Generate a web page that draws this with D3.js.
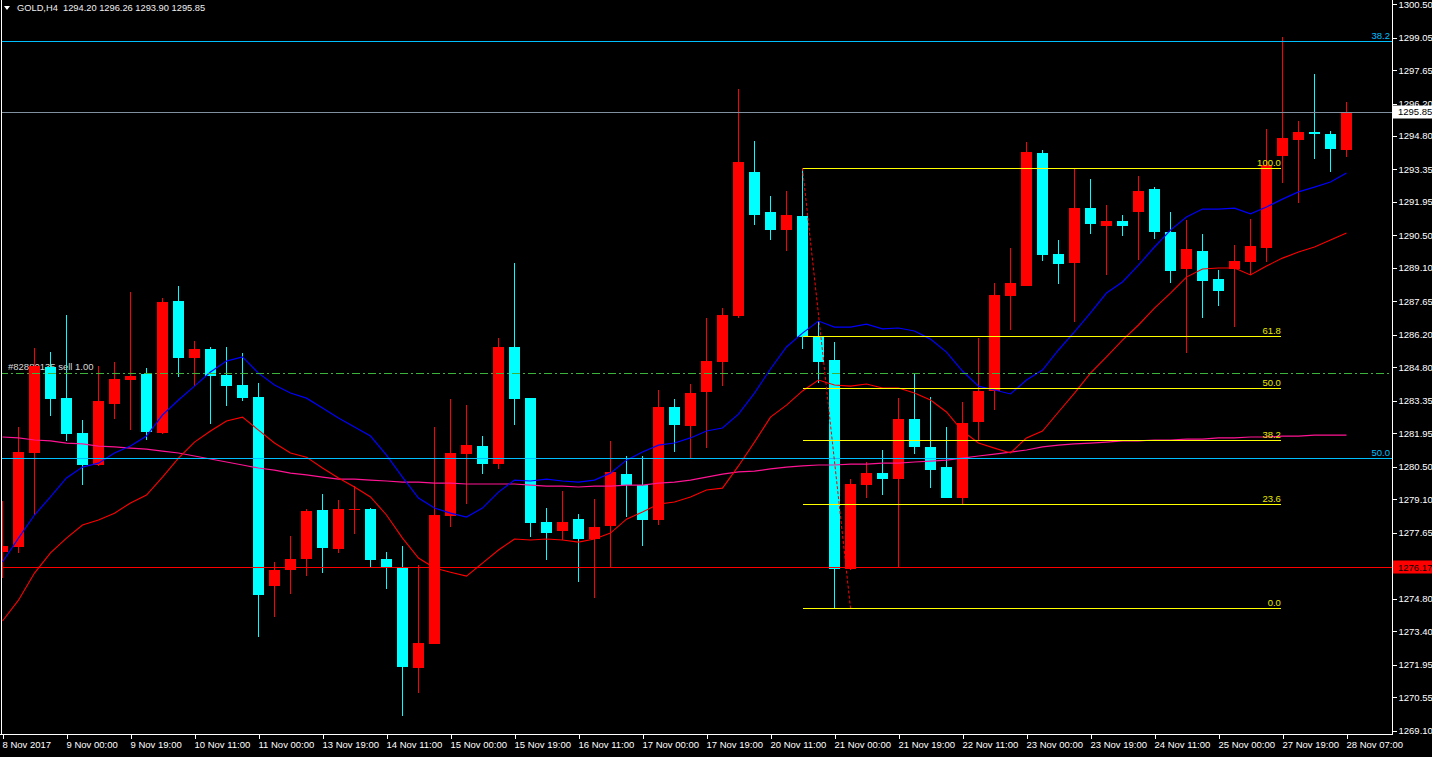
<!DOCTYPE html>
<html><head><meta charset="utf-8">
<script src="https://cdn.jsdelivr.net/npm/d3@7"></script>
<style>
html,body{margin:0;padding:0;background:#000;overflow:hidden}
svg{display:block}
text{font-family:"Liberation Sans",Arial,sans-serif;}
</style></head><body><svg id="c" width="1432" height="757"></svg>
<script>
// ---------- DATA ----------
const symbolTitle = "GOLD,H4";
const lastOHLC = ["1294.20", "1296.26", "1293.90", "1295.85"];

const timeLabels = ["8 Nov 2017","9 Nov 00:00","9 Nov 19:00","10 Nov 11:00","11 Nov 00:00","13 Nov 19:00",
  "14 Nov 11:00","15 Nov 00:00","15 Nov 19:00","16 Nov 11:00","17 Nov 00:00","17 Nov 19:00","20 Nov 11:00",
  "21 Nov 00:00","21 Nov 19:00","22 Nov 11:00","23 Nov 00:00","23 Nov 19:00","24 Nov 11:00","25 Nov 00:00",
  "27 Nov 19:00","28 Nov 07:00"];
const timeLabelBars = [0,4,8,12,16,20,24,28,32,36,40,44,48,52,56,60,64,68,72,76,80,84];

const priceTicks = [1300.50,1299.05,1297.65,1296.20,1294.80,1293.35,1291.95,1290.50,1289.10,1287.65,1286.20,
  1284.80,1283.35,1281.95,1280.50,1279.10,1277.65,1274.80,1273.40,1271.95,1270.55,1269.10];

const opens = [
1276.82,1277.03,1281.10,1284.81,1283.47,1281.96,1280.58,1283.21,1284.25,1284.51,
1281.96,1287.67,1285.20,1285.59,1284.47,1284.04,1283.52,1275.35,1276.04,1276.52,
1278.63,1276.95,1278.64,1278.68,1276.52,1276.13,1271.81,1272.84,1278.37,1281.05,
1281.40,1280.62,1285.68,1283.47,1278.11,1277.73,1278.24,1277.38,1277.94,1280.19,
1279.71,1278.20,1283.08,1282.26,1283.73,1285.03,1287.02,1293.24,1291.51,1290.73,
1291.34,1286.11,1285.12,1276.08,1279.71,1280.23,1279.97,1282.57,1281.36,1280.49,
1279.15,1282.44,1283.78,1287.88,1288.31,1294.06,1289.70,1289.31,1291.68,1290.91,
1291.12,1291.51,1292.51,1290.65,1289.05,1289.83,1288.62,1289.05,1289.35,1289.96,
1293.93,1294.62,1294.97,1294.88,1294.20];
const highs = [
1279.02,1282.22,1285.63,1285.46,1287.06,1282.52,1284.86,1285.03,1288.05,1284.77,
1287.79,1288.31,1285.94,1285.68,1285.68,1285.42,1284.12,1276.39,1277.51,1278.68,
1279.32,1279.07,1279.67,1278.72,1276.82,1277.08,1276.26,1282.22,1283.43,1283.17,
1281.83,1286.07,1289.31,1283.47,1278.72,1279.45,1278.46,1279.11,1281.62,1280.97,
1280.97,1283.82,1283.43,1284.08,1286.93,1287.36,1296.83,1294.58,1292.20,1292.42,
1293.41,1286.80,1285.89,1279.97,1280.71,1281.23,1283.47,1284.55,1283.52,1282.22,
1283.30,1286.07,1288.44,1289.96,1294.54,1294.19,1290.30,1293.41,1292.94,1291.81,
1291.38,1293.07,1292.59,1291.51,1291.17,1290.56,1289.00,1290.09,1291.21,1295.10,
1299.07,1295.44,1297.47,1295.01,1296.26];
const lows = [
1275.69,1276.78,1278.42,1282.70,1281.62,1279.71,1280.53,1282.57,1282.09,1281.66,
1281.92,1284.38,1283.99,1282.35,1283.13,1283.34,1273.15,1274.01,1275.00,1275.78,
1275.91,1276.78,1277.60,1276.17,1275.22,1269.73,1270.73,1272.84,1277.90,1278.89,
1280.19,1280.41,1282.31,1277.47,1276.47,1277.34,1275.52,1274.83,1276.17,1278.33,
1277.08,1277.99,1281.14,1280.88,1281.31,1283.99,1286.93,1290.95,1290.30,1289.83,
1285.59,1284.12,1274.40,1276.04,1279.15,1279.28,1276.17,1281.05,1279.58,1279.15,
1278.89,1281.66,1282.95,1286.41,1288.31,1289.39,1288.40,1286.76,1290.56,1288.79,
1290.47,1289.44,1290.34,1288.44,1285.42,1286.93,1287.45,1286.54,1288.79,1289.35,
1292.76,1291.90,1293.80,1293.24,1293.90];
const closes = [
1277.08,1281.14,1284.86,1283.43,1281.92,1280.58,1283.34,1284.29,1284.42,1282.00,
1287.62,1285.20,1285.59,1284.42,1283.99,1283.47,1274.96,1276.04,1276.52,1278.59,
1276.99,1278.68,1278.68,1276.47,1276.17,1271.85,1272.89,1278.42,1281.10,1281.44,
1280.62,1285.68,1283.43,1278.07,1277.64,1278.11,1277.38,1277.90,1280.28,1279.71,
1278.20,1283.08,1282.31,1283.69,1285.07,1287.06,1293.67,1291.38,1290.73,1291.38,
1286.11,1285.03,1276.08,1279.76,1280.23,1279.97,1282.57,1281.36,1280.36,1279.15,
1282.39,1283.78,1287.92,1288.44,1294.10,1289.65,1289.26,1291.68,1290.99,1291.12,
1290.91,1292.42,1290.65,1288.96,1289.91,1288.53,1288.10,1289.39,1290.04,1293.54,
1294.71,1294.97,1294.88,1294.23,1295.85];

// moving averages (blue fast, red medium, pink slow)
const maFast = [
1276.39,1277.42,1278.42,1279.20,1280.02,1280.49,1280.66,1281.10,1281.40,1281.83,
1282.74,1283.39,1283.99,1284.60,1285.07,1285.25,1284.55,1284.04,1283.69,1283.47,
1283.04,1282.61,1282.22,1281.83,1281.01,1280.06,1279.15,1278.72,1278.50,1278.33,
1278.72,1279.41,1279.93,1279.89,1279.97,1279.89,1279.84,1279.93,1280.23,1280.79,
1281.14,1281.44,1281.53,1281.75,1282.05,1282.18,1282.78,1283.69,1284.73,1285.68,
1286.28,1286.80,1286.54,1286.54,1286.67,1286.46,1286.50,1286.37,1286.02,1285.46,
1284.64,1283.99,1283.82,1283.65,1284.25,1284.68,1285.55,1286.33,1287.15,1288.01,
1288.49,1289.22,1290.00,1290.73,1291.30,1291.64,1291.64,1291.68,1291.43,1291.73,
1292.07,1292.38,1292.59,1292.81,1293.20];
const maMid = [
1273.84,1274.74,1275.91,1276.78,1277.42,1277.99,1278.20,1278.50,1278.94,1279.28,
1280.06,1280.88,1281.57,1282.05,1282.48,1282.65,1282.09,1281.53,1281.10,1280.92,
1280.45,1280.02,1279.63,1279.20,1278.42,1277.42,1276.56,1276.13,1275.95,1275.78,
1276.34,1276.91,1277.38,1277.34,1277.38,1277.34,1277.25,1277.38,1277.64,1278.24,
1278.55,1278.89,1278.98,1279.20,1279.50,1279.58,1280.54,1281.57,1282.65,1283.17,
1283.78,1284.25,1284.04,1283.99,1284.08,1283.91,1283.91,1283.69,1283.39,1282.87,
1282.05,1281.53,1281.31,1281.10,1281.75,1282.05,1282.87,1283.69,1284.55,1285.25,
1285.98,1286.63,1287.36,1288.01,1288.70,1289.05,1289.09,1289.09,1288.79,1289.18,
1289.52,1289.78,1290.00,1290.30,1290.60];
const maSlow = [
1281.79,1281.75,1281.66,1281.62,1281.53,1281.49,1281.40,1281.36,1281.31,1281.27,
1281.18,1281.10,1280.97,1280.84,1280.71,1280.58,1280.45,1280.36,1280.23,1280.15,
1280.06,1279.97,1279.97,1279.93,1279.89,1279.84,1279.84,1279.80,1279.80,1279.76,
1279.76,1279.76,1279.76,1279.71,1279.67,1279.67,1279.63,1279.67,1279.67,1279.71,
1279.71,1279.80,1279.84,1279.93,1280.06,1280.19,1280.28,1280.32,1280.41,1280.49,
1280.54,1280.58,1280.58,1280.62,1280.62,1280.66,1280.66,1280.71,1280.75,1280.79,
1280.88,1280.97,1281.05,1281.14,1281.23,1281.36,1281.44,1281.49,1281.53,1281.57,
1281.62,1281.62,1281.66,1281.66,1281.70,1281.70,1281.75,1281.75,1281.79,1281.79,
1281.83,1281.83,1281.87,1281.87,1281.87];

// Fibonacci retracement (yellow)
const fibHighBar = 50, fibHighPrice = 1293.41;
const fibLowBar = 53, fibLowPrice = 1274.40;
const fibEndBar = 79.9;
const fibLevels = [0, 23.6, 38.2, 50.0, 61.8, 100.0];
// second (blue) fibonacci, only two levels visible
const blueFibLevels = ["38.2", "50.0"];
const blueFibPrices = [1298.90, 1280.88];

const bidPrice = 1295.85;
const redLinePrice = 1276.17;
const orderPrice = 1284.54;
const orderText = "#82880135 sell 1.00";

// ---------- CHART ----------
const W = 1432, H = 757, plotR = 1392, plotB = 734;
const svg = d3.select("#c");
svg.append("rect").attr("width", W).attr("height", H).attr("fill", "#000");

const x = d3.scaleLinear().domain([0, 84]).range([2.5, 1346.5]);
const y = d3.scaleLinear().domain([1269.10, 1300.50]).range([730.7, 4]);

svg.append("clipPath").attr("id", "plot").append("rect")
  .attr("x", 2).attr("y", 0).attr("width", plotR - 2).attr("height", plotB);
const plot = svg.append("g").attr("clip-path", "url(#plot)");

// order text (behind candles)
plot.append("text").attr("x", 8).attr("y", y(orderPrice) - 3)
  .attr("fill", "#d8d8d8").attr("font-size", 9.5).text(orderText);

// candles
const idx = d3.range(opens.length);
const up = i => closes[i] >= opens[i];
const col = i => up(i) ? "#ff0000" : "#00ffff";
plot.append("g").selectAll("line").data(idx).join("line")
  .attr("x1", i => x(i)).attr("x2", i => x(i))
  .attr("y1", i => y(highs[i])).attr("y2", i => y(lows[i]))
  .attr("stroke", col).attr("stroke-width", 1).attr("shape-rendering", "crispEdges");
plot.append("g").selectAll("rect").data(idx).join("rect")
  .attr("x", i => x(i) - 5.5).attr("width", 11)
  .attr("y", i => Math.round(y(Math.max(opens[i], closes[i]))))
  .attr("height", i => Math.max(1, Math.round(Math.abs(y(opens[i]) - y(closes[i])))))
  .attr("fill", col).attr("shape-rendering", "crispEdges");

// moving averages
const line = d3.line().x((d, i) => x(i)).y(d => y(d));
plot.append("path").datum(maSlow).attr("d", line).attr("fill", "none").attr("stroke", "#ff1493").attr("stroke-width", 1.2);
plot.append("path").datum(maMid).attr("d", line).attr("fill", "none").attr("stroke", "#ff0000").attr("stroke-width", 1.1);
plot.append("path").datum(maFast).attr("d", line).attr("fill", "none").attr("stroke", "#0000ff").attr("stroke-width", 1.2);

// horizontal lines
function hline(p, color, dash) {
  const yy = Math.round(y(p)) + 0.5;
  const l = plot.append("line").attr("x1", 0).attr("x2", plotR).attr("y1", yy).attr("y2", yy)
    .attr("stroke", color).attr("stroke-width", 1).attr("shape-rendering", "crispEdges");
  if (dash) l.attr("stroke-dasharray", dash);
}
blueFibPrices.forEach(p => hline(p, "#00bfff"));
hline(bidPrice, "#8190a0");
hline(redLinePrice, "#ff0000");
hline(orderPrice, "#3cb43c", "8,3,2,3");

blueFibPrices.forEach((p, k) => {
  plot.append("text").attr("x", 1390).attr("y", Math.round(y(p)) - 2).attr("text-anchor", "end")
    .attr("fill", "#00bfff").attr("font-size", 9.5).text(blueFibLevels[k]);
});

// yellow fib
const fmt1 = d3.format(".1f");
fibLevels.forEach(l => {
  const p = fibLowPrice + (fibHighPrice - fibLowPrice) * l / 100;
  const yy = Math.round(y(p)) + 0.5;
  plot.append("line").attr("x1", x(fibHighBar)).attr("x2", x(fibEndBar)).attr("y1", yy).attr("y2", yy)
    .attr("stroke", "#ffff00").attr("shape-rendering", "crispEdges");
  plot.append("text").attr("x", x(fibEndBar)).attr("y", yy - 2.5).attr("text-anchor", "end")
    .attr("fill", "#e8e800").attr("font-size", 9.5).text(fmt1(l));
});
plot.append("line").attr("x1", x(fibHighBar)).attr("y1", y(fibHighPrice))
  .attr("x2", x(fibLowBar)).attr("y2", y(fibLowPrice))
  .attr("stroke", "#ff0000").attr("stroke-dasharray", "3,2").attr("stroke-width", 1);

// frame
svg.append("line").attr("x1", 1.5).attr("x2", 1.5).attr("y1", 0).attr("y2", plotB + 0.5).attr("stroke", "#fff").attr("shape-rendering", "crispEdges");
svg.append("line").attr("x1", plotR + 0.5).attr("x2", plotR + 0.5).attr("y1", 0).attr("y2", plotB + 0.5).attr("stroke", "#fff").attr("shape-rendering", "crispEdges");
svg.append("line").attr("x1", 0).attr("x2", plotR + 0.5).attr("y1", plotB + 0.5).attr("y2", plotB + 0.5).attr("stroke", "#fff").attr("shape-rendering", "crispEdges");

// right axis
const ra = svg.append("g").attr("transform", `translate(${plotR + 0.5},0)`)
  .call(d3.axisRight(y).tickValues(priceTicks).tickSize(4).tickPadding(2).tickFormat(d3.format(".2f")));
ra.select(".domain").remove();
ra.selectAll("line").attr("stroke", "#fff").attr("shape-rendering", "crispEdges");
ra.selectAll("text").attr("fill", "#fff").attr("font-size", 9.5).attr("font-family", "Liberation Sans, Arial");

// bottom axis
const ba = svg.append("g").attr("transform", `translate(0,${plotB + 0.5})`)
  .call(d3.axisBottom(x).tickValues(timeLabelBars).tickSize(4).tickPadding(3).tickFormat((d, i) => timeLabels[i]));
ba.select(".domain").remove();
ba.selectAll("line").attr("stroke", "#fff").attr("shape-rendering", "crispEdges");
ba.selectAll("text").attr("fill", "#fff").attr("font-size", 9.5).attr("text-anchor", "start")
  .attr("x", -0.5).attr("font-family", "Liberation Sans, Arial");

// price boxes on axis
function priceBox(p, bg, fg) {
  const yy = y(p);
  svg.append("rect").attr("x", plotR + 1).attr("y", Math.round(yy) - 6.5).attr("width", W - plotR - 1).attr("height", 13).attr("fill", bg);
  svg.append("text").attr("x", plotR + 6).attr("y", yy + 3.5).attr("fill", fg).attr("font-size", 9.5)
    .text(d3.format(".2f")(p));
}
priceBox(bidPrice, "#ffffff", "#000000");
priceBox(redLinePrice, "#ff0000", "#000000");

// header
svg.append("path").attr("d", "M4,6 L10,6 L7,10 Z").attr("fill", "#fff");
svg.append("text").attr("x", 17).attr("y", 11).attr("fill", "#f0f0f0").attr("font-size", 9.3)
  .attr("xml:space", "preserve")
  .text(symbolTitle + "  " + lastOHLC.join(" "));
</script></body></html>
